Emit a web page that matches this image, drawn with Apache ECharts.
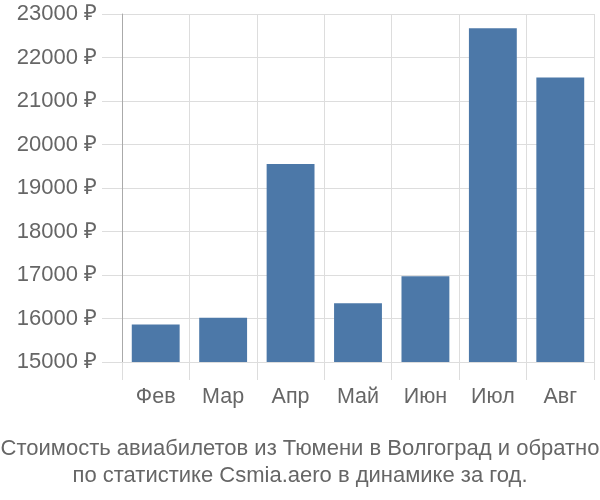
<!DOCTYPE html>
<html><head><meta charset="utf-8">
<script src="https://cdn.jsdelivr.net/npm/echarts@6/dist/echarts.min.js"></script>
<style>html,body{margin:0;padding:0;background:#fff}#c{width:600px;height:500px}</style>
</head><body><div id="c"></div>
<script>
var categories = ['Фев','Мар','Апр','Май','Июн','Июл','Авг'];
var prices = [15860, 16020, 19550, 16350, 16970, 22670, 21540];
var yMin = 15000, yMax = 23000, yStep = 1000;
var titleText = 'Стоимость авиабилетов из Тюмени в Волгоград и обратно\nпо статистике Csmia.aero в динамике за год.';

var chart = echarts.init(document.getElementById('c'), null, {renderer:'canvas'});
var font = '"Liberation Sans", Arial, sans-serif';
chart.setOption({
  animation: false,
  title: {
    text: titleText, left: 'center', top: 430,
    textStyle: {fontFamily: font, fontSize: 22, fontWeight: 'normal', color: '#666', lineHeight: 27}
  },
  grid: {left: 122, right: 6, top: 14, bottom: 138},
  xAxis: {
    type: 'category', data: categories,
    axisLine: {show: true, lineStyle: {color: '#ddd', width: 1}},
    axisTick: {show: true, length: 18, lineStyle: {color: '#ddd'}},
    splitLine: {show: true, lineStyle: {color: '#ddd'}},
    axisLabel: {margin: 24, fontFamily: font, fontSize: 21.5, color: '#666'}
  },
  yAxis: {
    type: 'value', min: yMin, max: yMax, interval: yStep,
    axisLine: {show: true, lineStyle: {color: '#aaa', width: 1}},
    axisTick: {show: true, length: 20, lineStyle: {color: '#ddd'}},
    splitLine: {show: true, lineStyle: {color: '#ddd'}},
    axisLabel: {margin: 25, fontFamily: font, fontSize: 22, color: '#666',
      formatter: function (v) { return v + ' ₽'; }}
  },
  series: [{
    type: 'bar', data: prices, barCategoryGap: '29%',
    itemStyle: {color: '#4c78a8'}
  }]
});
</script></body></html>
